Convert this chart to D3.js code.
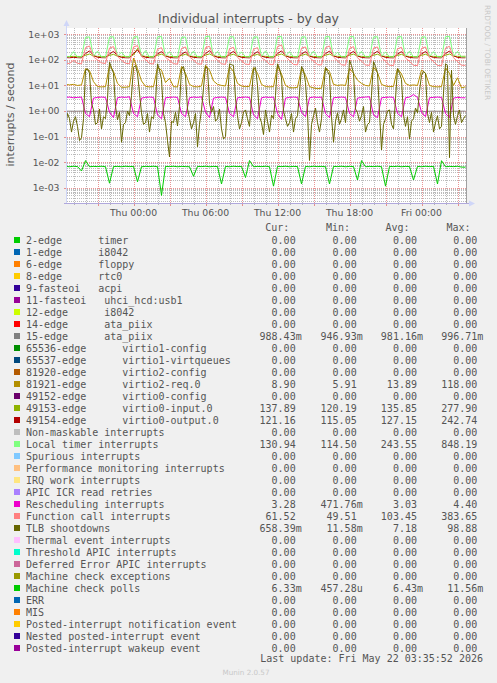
<!DOCTYPE html>
<html><head><meta charset="utf-8">
<script src="https://cdn.jsdelivr.net/npm/d3@7"></script>
<style>
html,body{margin:0;padding:0;background:#f0f0f0;}
svg{display:block;}
text{font-family:"DejaVu Sans",sans-serif;}
.mono{font-family:"DejaVu Sans Mono",monospace;white-space:pre;}
</style></head><body>
<svg id="chart" width="497" height="683"></svg>
<script>
// ---------------- DATA ----------------
// samples start Wed 2026-05-20 18:20 UTC
const seriesStart = Date.UTC(2026, 4, 20, 18, 20);
const seriesStepMinutes = 20;   // most series
const tlbStepMinutes = 10;      // TLB shootdowns sampled finer

const localTimer = [135,130,210,128,132,760,790,140,220,130,128,780,800,138,200,131,129,770,810,135,230,128,130,790,820,140,210,130,127,760,780,136,220,129,131,800,848,140,215,130,128,790,800,137,205,131,129,770,790,134,225,130,128,800,820,138,210,131,129,780,790,136,220,130,127,800,810,139,200,131,128,790,820,135,215,130,129,780,800,137,205,131,128,790,810,136,220,130,129,770,790,134,210,131,128,800,830,138,215,131,130];

const functionCall = [74,72,95,73,70,300,350,130,100,76,72,290,330,140,95,74,70,320,360,135,105,72,69,260,300,125,95,71,68,280,320,130,98,70,68,300,340,140,96,70,67,270,310,125,92,68,66,260,300,120,95,67,65,330,383,135,94,66,64,290,320,125,90,65,63,300,350,130,92,64,62,280,330,120,90,63,61,290,320,125,88,62,60,270,310,118,88,61,60,280,320,120,86,60,59,290,340,122,85,62,61];

const virtio0Output = [123,121,125,122,120,175,225,150,126,122,121,170,215,145,124,121,120,180,242,150,125,122,120,170,210,145,124,121,120,165,205,140,125,122,121,175,230,150,125,121,120,170,215,145,124,122,120,165,210,140,125,121,120,175,225,148,124,121,120,170,210,142,124,121,120,175,220,145,125,122,120,170,215,143,124,121,120,172,218,145,124,121,120,168,210,140,124,121,120,170,212,142,123,121,120,175,222,146,124,121,121];

const virtio0Input = [136,135,137,136,135,150,170,140,137,136,135,148,165,139,137,136,135,155,278,142,137,136,135,150,168,140,136,135,135,148,165,139,137,136,135,152,172,141,137,136,135,150,166,139,136,135,135,148,164,139,137,136,135,152,170,140,137,136,135,149,166,139,136,135,135,151,169,140,137,136,135,150,168,139,137,136,135,150,167,140,137,136,135,148,165,139,136,135,135,149,166,139,137,136,135,151,170,140,137,137,138];

const virtio2Req = [11,10.5,11,10,10.5,45,38,14,9,8.8,9,60,35,12,8.5,8.5,9,118,45,15,9.2,8.8,9,50,40,13,19,9,8.7,55,30,11,9,8.8,9.5,62,40,15,11,10,9.5,55,35,12,9.5,9,9.2,50,30,11,9,8.8,9,58,28,10,8.2,8,8.5,45,25,9,8,7.5,7.8,50,35,11,10,10.5,10,46,30,16,12,10,9.5,52,32,11,9.5,9,9.2,46,28,12,10,10.5,10,40,30,10,9,8.8,9,48,30,10,20,8,8.9];

const rescheduling = [3.4,3.5,3.3,3.4,3.5,0.8,0.6,3.2,3.4,3.5,3.4,0.9,0.55,3.3,3.5,3.4,3.6,0.8,0.6,3.2,3.4,3.5,3.4,0.7,0.5,3.3,3.4,3.5,3.4,0.8,0.6,3.3,3.5,3.4,3.6,0.9,0.55,3.2,3.4,3.5,3.4,0.8,0.6,3.3,3.4,3.5,3.4,0.7,0.5,3.3,3.5,3.4,3.5,0.8,0.47,3.2,3.4,3.5,3.4,0.9,0.6,3.3,3.5,3.4,3.5,0.8,0.55,3.3,3.4,3.5,3.4,0.8,0.6,3.2,3.4,3.5,3.6,0.7,0.55,3.3,3.4,3.5,3.4,0.8,0.6,3.3,3.5,4.4,3.4,0.9,0.6,3.3,3.4,3.5,3.4,0.8,0.55,3.2,3.4,3.3,3.28];

const ataPiix = [0.98,0.985,0.978,0.982,0.99,0.975,0.96,0.98,0.984,0.979,0.983,0.97,0.955,0.98,0.986,0.981,0.979,0.972,0.95,0.981,0.985,0.98,0.984,0.975,0.96,0.982,0.979,0.983,0.986,0.97,0.958,0.98,0.984,0.981,0.978,0.973,0.947,0.982,0.985,0.98,0.983,0.975,0.96,0.981,0.979,0.984,0.98,0.972,0.955,0.98,0.985,0.983,0.979,0.97,0.958,0.981,0.984,0.98,0.982,0.975,0.96,0.98,0.986,0.981,0.979,0.972,0.955,0.982,0.984,0.98,0.983,0.974,0.96,0.981,0.997,0.98,0.984,0.973,0.957,0.98,0.985,0.982,0.979,0.975,0.96,0.981,0.984,0.98,0.983,0.972,0.958,0.981,0.985,0.98,0.982,0.974,0.956,0.981,0.984,0.986,0.988];

const tlbShootdowns = [
0.2,0.8, 0.5,0.15, 0.4,0.6, 0.25,0.07, 0.09,0.5, 40,45, 30,2, 1.1,0.3, 0.35,1.2, 0.2,0.6,
0.5,3, 80,50, 30,1.5, 0.45,0.9, 0.06,0.3, 0.35,1.0, 0.65,4, 50,60, 30,5, 0.85,0.3,
0.35,0.8, 0.15,0.6, 0.5,2, 70,40, 17,0.8, 0.35,0.07, 0.016,0.4, 0.35,0.9, 0.26,1.5, 45,55,
23,1.2, 0.5,0.2, 0.35,0.8, 0.04,0.3, 1.1,8, 55,45, 2,0.9, 1.5,0.4, 0.5,1.2, 0.2,0.08,
0.1,2, 70,65, 60,3, 0.65,0.2, 0.35,0.9, 1.1,0.5, 0.25,3, 45,50, 10,0.6, 0.35,0.12,
1.1,0.4, 0.15,0.7, 0.5,4, 70,45, 20,1.0, 0.5,0.25, 0.35,0.8, 0.15,0.5, 0.65,5, 55,40,
13,0.9, 0.0116,0.3, 0.65,1.3, 0.35,0.15, 0.5,6, 50,35, 25,0.6, 0.06,0.4, 0.85,0.3, 0.5,1.1,
0.35,3, 98.88,60, 30,1.2, 0.85,0.4, 0.65,1.5, 0.15,0.3, 0.35,4, 85,55, 30,0.9, 0.03,0.3,
0.5,1.0, 1.1,0.3, 0.2,3, 45,30, 17,0.7, 0.25,0.6, 0.08,0.4, 0.5,1.3, 0.85,6, 25,35,
30,0.8, 0.35,0.9, 0.15,0.35, 0.65,0.2, 0.25,5, 70,60, 0.015,40, 0.65,0.3, 0.65,1.1, 0.35,0.5,
0.66];

const machineCheckPolls = [0.0068,0.0066,0.0069,0.0067,0.0045,0.0115,0.0066,0.0068,0.0067,0.0069,0.0066,0.0015,0.0067,0.0068,0.0066,0.0069,0.0067,0.0068,0.0017,0.0066,0.0068,0.0067,0.0069,0.0066,0.0005,0.0068,0.0067,0.0069,0.0066,0.0068,0.0067,0.0066,0.0028,0.0068,0.0067,0.0069,0.0066,0.0068,0.0067,0.0014,0.0068,0.0066,0.0069,0.0067,0.0068,0.0025,0.0116,0.0066,0.0068,0.0067,0.0069,0.0066,0.00115,0.0068,0.0067,0.0069,0.0066,0.0068,0.0067,0.0014,0.0068,0.0066,0.0069,0.0067,0.0068,0.0066,0.0014,0.0068,0.0067,0.0069,0.0066,0.0068,0.0067,0.002,0.0115,0.0066,0.0068,0.0067,0.0069,0.0066,0.00115,0.0068,0.0067,0.0069,0.0066,0.0068,0.0067,0.002,0.0068,0.0066,0.0069,0.0067,0.0068,0.0014,0.0114,0.0066,0.0068,0.0067,0.0069,0.0064,0.00633];

// legend
const legendNames = ["2-edge      timer","1-edge      i8042","6-edge      floppy","8-edge      rtc0","9-fasteoi   acpi","11-fasteoi   uhci_hcd:usb1","12-edge      i8042","14-edge      ata_piix","15-edge      ata_piix","65536-edge      virtio1-config","65537-edge      virtio1-virtqueues","81920-edge      virtio2-config","81921-edge      virtio2-req.0","49152-edge      virtio0-config","49153-edge      virtio0-input.0","49154-edge      virtio0-output.0","Non-maskable interrupts","Local timer interrupts","Spurious interrupts","Performance monitoring interrupts","IRQ work interrupts","APIC ICR read retries","Rescheduling interrupts","Function call interrupts","TLB shootdowns","Thermal event interrupts","Threshold APIC interrupts","Deferred Error APIC interrupts","Machine check exceptions","Machine check polls","ERR","MIS","Posted-interrupt notification event","Nested posted-interrupt event","Posted-interrupt wakeup event"];
const legendColors = ["#00CC00","#0066B3","#FF8000","#FFCC00","#330099","#990099","#CCFF00","#FF0000","#808080","#008F00","#00487D","#B35A00","#B38F00","#6B006B","#8FB300","#B30000","#BEBEBE","#80FF80","#80C9FF","#FFC080","#FFE680","#AA80FF","#EE00CC","#FF8080","#666600","#FFBFFF","#00FFCC","#CC6699","#999900","#00CC00","#0066B3","#FF8000","#FFCC00","#330099","#990099"];
const curValues = ["0.00","0.00","0.00","0.00","0.00","0.00","0.00","0.00","988.43m","0.00","0.00","0.00","8.90","0.00","137.89","121.16","0.00","130.94","0.00","0.00","0.00","0.00","3.28","61.52","658.39m","0.00","0.00","0.00","0.00","6.33m","0.00","0.00","0.00","0.00","0.00"];
const minValues = ["0.00","0.00","0.00","0.00","0.00","0.00","0.00","0.00","946.93m","0.00","0.00","0.00","5.91","0.00","120.19","115.05","0.00","114.50","0.00","0.00","0.00","0.00","471.76m","49.51","11.58m","0.00","0.00","0.00","0.00","457.28u","0.00","0.00","0.00","0.00","0.00"];
const avgValues = ["0.00","0.00","0.00","0.00","0.00","0.00","0.00","0.00","981.16m","0.00","0.00","0.00","13.89","0.00","135.85","127.15","0.00","243.55","0.00","0.00","0.00","0.00","3.03","103.45","7.18","0.00","0.00","0.00","0.00","6.43m","0.00","0.00","0.00","0.00","0.00"];
const maxValues = ["0.00","0.00","0.00","0.00","0.00","0.00","0.00","0.00","996.71m","0.00","0.00","0.00","118.00","0.00","277.90","242.74","0.00","848.19","0.00","0.00","0.00","0.00","4.40","383.65","98.88","0.00","0.00","0.00","0.00","11.56m","0.00","0.00","0.00","0.00","0.00"];
const columnHeaders = ["Cur:","Min:","Avg:","Max:"];

const yTickValues = [1e3,1e2,1e1,1e0,1e-1,1e-2,1e-3];
const yTickLabels = ["1e+03","1e+02","1e+01","1e+00","1e-01","1e-02","1e-03"];
const xLabelFormat = "%a %H:%M";

const titleText = "Individual interrupts - by day";
const yAxisTitle = "interrupts / second";
const lastUpdate = "Last update: Fri May 22 03:35:52 2026";

// ---------------- LAYOUT ----------------
const svg = d3.select("#chart");
const plotL = 67, plotR = 466, plotT = 28, plotB = 203;

const x = d3.scaleUtc()
  .domain([new Date(Date.UTC(2026,4,20,18,27,30)), new Date(Date.UTC(2026,4,22,3,42,30))])
  .range([plotL, plotR]);
const y = d3.scaleLog().domain([1e-3, 1e3]).range([187.7, 34.3]);

svg.append("rect").attr("width",497).attr("height",683).attr("fill","#f0f0f0");
svg.append("rect").attr("x",plotL).attr("y",plotT).attr("width",plotR-plotL).attr("height",plotB-plotT).attr("fill","#ffffff");

const grid = svg.append("g").attr("shape-rendering","crispEdges");
const minorCol = "rgba(143,143,143,0.6)";
const majorCol = "rgba(222,79,79,0.6)";

const yMin = y.invert(plotB), yMax = y.invert(plotT);
const minorY = [], majorY = [];
for (let d = -5; d <= 4; d++) {
  for (let m = 1; m <= 9; m++) {
    const v = m * Math.pow(10, d);
    if (v < yMin || v > yMax) continue;
    (m === 1 ? majorY : minorY).push(v);
  }
}
grid.selectAll(".hmin").data(minorY).enter().append("line")
  .attr("x1",plotL).attr("x2",plotR)
  .attr("y1",d=>Math.round(y(d))+0.5).attr("y2",d=>Math.round(y(d))+0.5)
  .attr("stroke",minorCol).attr("stroke-dasharray","1,1");

const hours = x.ticks(d3.utcHour.every(1));
const minorX = hours.filter(d => d.getUTCHours() % 3 !== 0);
const majorX = hours.filter(d => d.getUTCHours() % 3 === 0);
grid.selectAll(".vmin").data(minorX).enter().append("line")
  .attr("y1",plotT).attr("y2",plotB)
  .attr("x1",d=>Math.round(x(d))+0.5).attr("x2",d=>Math.round(x(d))+0.5)
  .attr("stroke",minorCol).attr("stroke-dasharray","1,1");
grid.selectAll(".hmaj").data(majorY).enter().append("line")
  .attr("x1",plotL).attr("x2",plotR)
  .attr("y1",d=>Math.round(y(d))+0.5).attr("y2",d=>Math.round(y(d))+0.5)
  .attr("stroke",majorCol).attr("stroke-dasharray","1,1");
grid.selectAll(".vmaj").data(majorX).enter().append("line")
  .attr("y1",plotT).attr("y2",plotB)
  .attr("x1",d=>Math.round(x(d))+0.5).attr("x2",d=>Math.round(x(d))+0.5)
  .attr("stroke",majorCol).attr("stroke-dasharray","1,1");

grid.selectAll(".xt").data(hours).enter().append("line")
  .attr("y1",plotB).attr("y2",d=>plotB + (d.getUTCHours()%3===0?3:2))
  .attr("x1",d=>Math.round(x(d))+0.5).attr("x2",d=>Math.round(x(d))+0.5)
  .attr("stroke",d=>d.getUTCHours()%3===0?majorCol:minorCol);
grid.selectAll(".yt").data(majorY).enter().append("line")
  .attr("x1",plotL-3).attr("x2",plotL)
  .attr("y1",d=>Math.round(y(d))+0.5).attr("y2",d=>Math.round(y(d))+0.5)
  .attr("stroke",majorCol);

// ---------------- SERIES ----------------
const drawOrder = [
  {values: ataPiix, step: seriesStepMinutes, color: legendColors[8]},
  {values: virtio2Req, step: seriesStepMinutes, color: legendColors[12]},
  {values: virtio0Input, step: seriesStepMinutes, color: legendColors[14]},
  {values: virtio0Output, step: seriesStepMinutes, color: legendColors[15]},
  {values: localTimer, step: seriesStepMinutes, color: legendColors[17]},
  {values: rescheduling, step: seriesStepMinutes, color: legendColors[22]},
  {values: functionCall, step: seriesStepMinutes, color: legendColors[23]},
  {values: tlbShootdowns, step: tlbStepMinutes, color: legendColors[24]},
  {values: machineCheckPolls, step: seriesStepMinutes, color: legendColors[29]}
];
svg.append("clipPath").attr("id","clip").append("rect")
  .attr("x",plotL).attr("y",plotT).attr("width",plotR-plotL).attr("height",plotB-plotT);
const lines = svg.append("g").attr("clip-path","url(#clip)");
drawOrder.forEach(s => {
  const line = d3.line()
    .x((d,i) => x(new Date(seriesStart + i*s.step*60000)))
    .y(d => y(d));
  lines.append("path").attr("d", line(s.values)).attr("fill","none")
    .attr("stroke", s.color).attr("stroke-width",1).attr("stroke-linejoin","round");
});

// frame / axes
svg.append("line").attr("x1",plotR+0.5).attr("x2",plotR+0.5).attr("y1",plotT).attr("y2",plotB)
  .attr("stroke","#a0a0a0");
const axisCol = "#b0a8dc";
svg.append("line").attr("x1",plotL-0.5).attr("x2",plotL-0.5).attr("y1",plotB).attr("y2",24).attr("stroke","#cfd6f8");
svg.append("line").attr("x1",plotL-3).attr("x2",470).attr("y1",plotB+0.5).attr("y2",plotB+0.5).attr("stroke",axisCol);
svg.append("path").attr("d",`M${plotL-3.5},26 L${plotL-0.5},20 L${plotL+2.5},26 Z`).attr("fill","#cfd6f8");
svg.append("path").attr("d",`M469,${plotB-2.5} L475,${plotB+0.5} L469,${plotB+3.5} Z`).attr("fill","#cfd6f8");

// axis labels
const axFont = 9.3;
svg.selectAll(".ylab").data(yTickValues).enter().append("text")
  .attr("x",59.5).attr("y",d=>y(d)+3.4).attr("text-anchor","end")
  .attr("font-size",axFont).attr("fill","#555").text((d,i)=>yTickLabels[i]);
const labelHours = hours.filter(d => d.getUTCHours() % 6 === 0);
const fmt = d3.utcFormat(xLabelFormat);
svg.selectAll(".xlab").data(labelHours).enter().append("text")
  .attr("x",d=>x(d)).attr("y",216).attr("text-anchor","middle")
  .attr("font-size",axFont).attr("fill","#555").text(d=>fmt(d));

svg.append("text").attr("x",248.5).attr("y",23).attr("text-anchor","middle")
  .attr("font-size",12.5).attr("fill","#555").text(titleText);
svg.append("text").attr("transform","translate(13.5,114.5) rotate(-90)").attr("text-anchor","middle")
  .attr("font-size",11).attr("fill","#555").text(yAxisTitle);
svg.append("text").attr("transform","translate(485,52.5) rotate(90)").attr("text-anchor","middle")
  .attr("font-size",7.4).attr("fill","#c8c8c8").text("RRDTOOL / TOBI OETIKER");

// ---------------- LEGEND ----------------
const leg = svg.append("g");
const rowY0 = 240, rowStep = 12, charW = 6.02;
const colEdges = [301.7, 362.7, 423, 483.3];
const headEdges = [289.3, 350, 409.5, 470.5];
columnHeaders.forEach((h,i) => {
  leg.append("text").attr("class","mono").attr("x",headEdges[i]).attr("y",231.3)
    .attr("text-anchor","end").attr("font-size",10).attr("fill","#555").text(h);
});
const cols = [curValues, minValues, avgValues, maxValues];
legendNames.forEach((n,i) => {
  const cy = rowY0 + i*rowStep;
  leg.append("rect").attr("x",14).attr("y",cy-3).attr("width",6).attr("height",6).attr("fill",legendColors[i]);
  leg.append("text").attr("class","mono").attr("x",26).attr("y",cy+3.6)
    .attr("font-size",10).attr("fill","#555").text(n);
  cols.forEach((c,j) => {
    const s = c[i];
    const hasUnit = /[a-zA-Z]$/.test(s);
    leg.append("text").attr("class","mono").attr("x",colEdges[j] - (hasUnit?0:charW)).attr("y",cy+3.6)
      .attr("text-anchor","end").attr("font-size",10).attr("fill","#555").text(s);
  });
});
leg.append("text").attr("class","mono").attr("x",483).attr("y",661.9)
  .attr("text-anchor","end").attr("font-size",10).attr("fill","#555").text(lastUpdate);
svg.append("text").attr("x",246).attr("y",674.8).attr("text-anchor","middle")
  .attr("font-size",7.2).attr("fill","#c8c8c8").text("Munin 2.0.57");
</script></body></html>
